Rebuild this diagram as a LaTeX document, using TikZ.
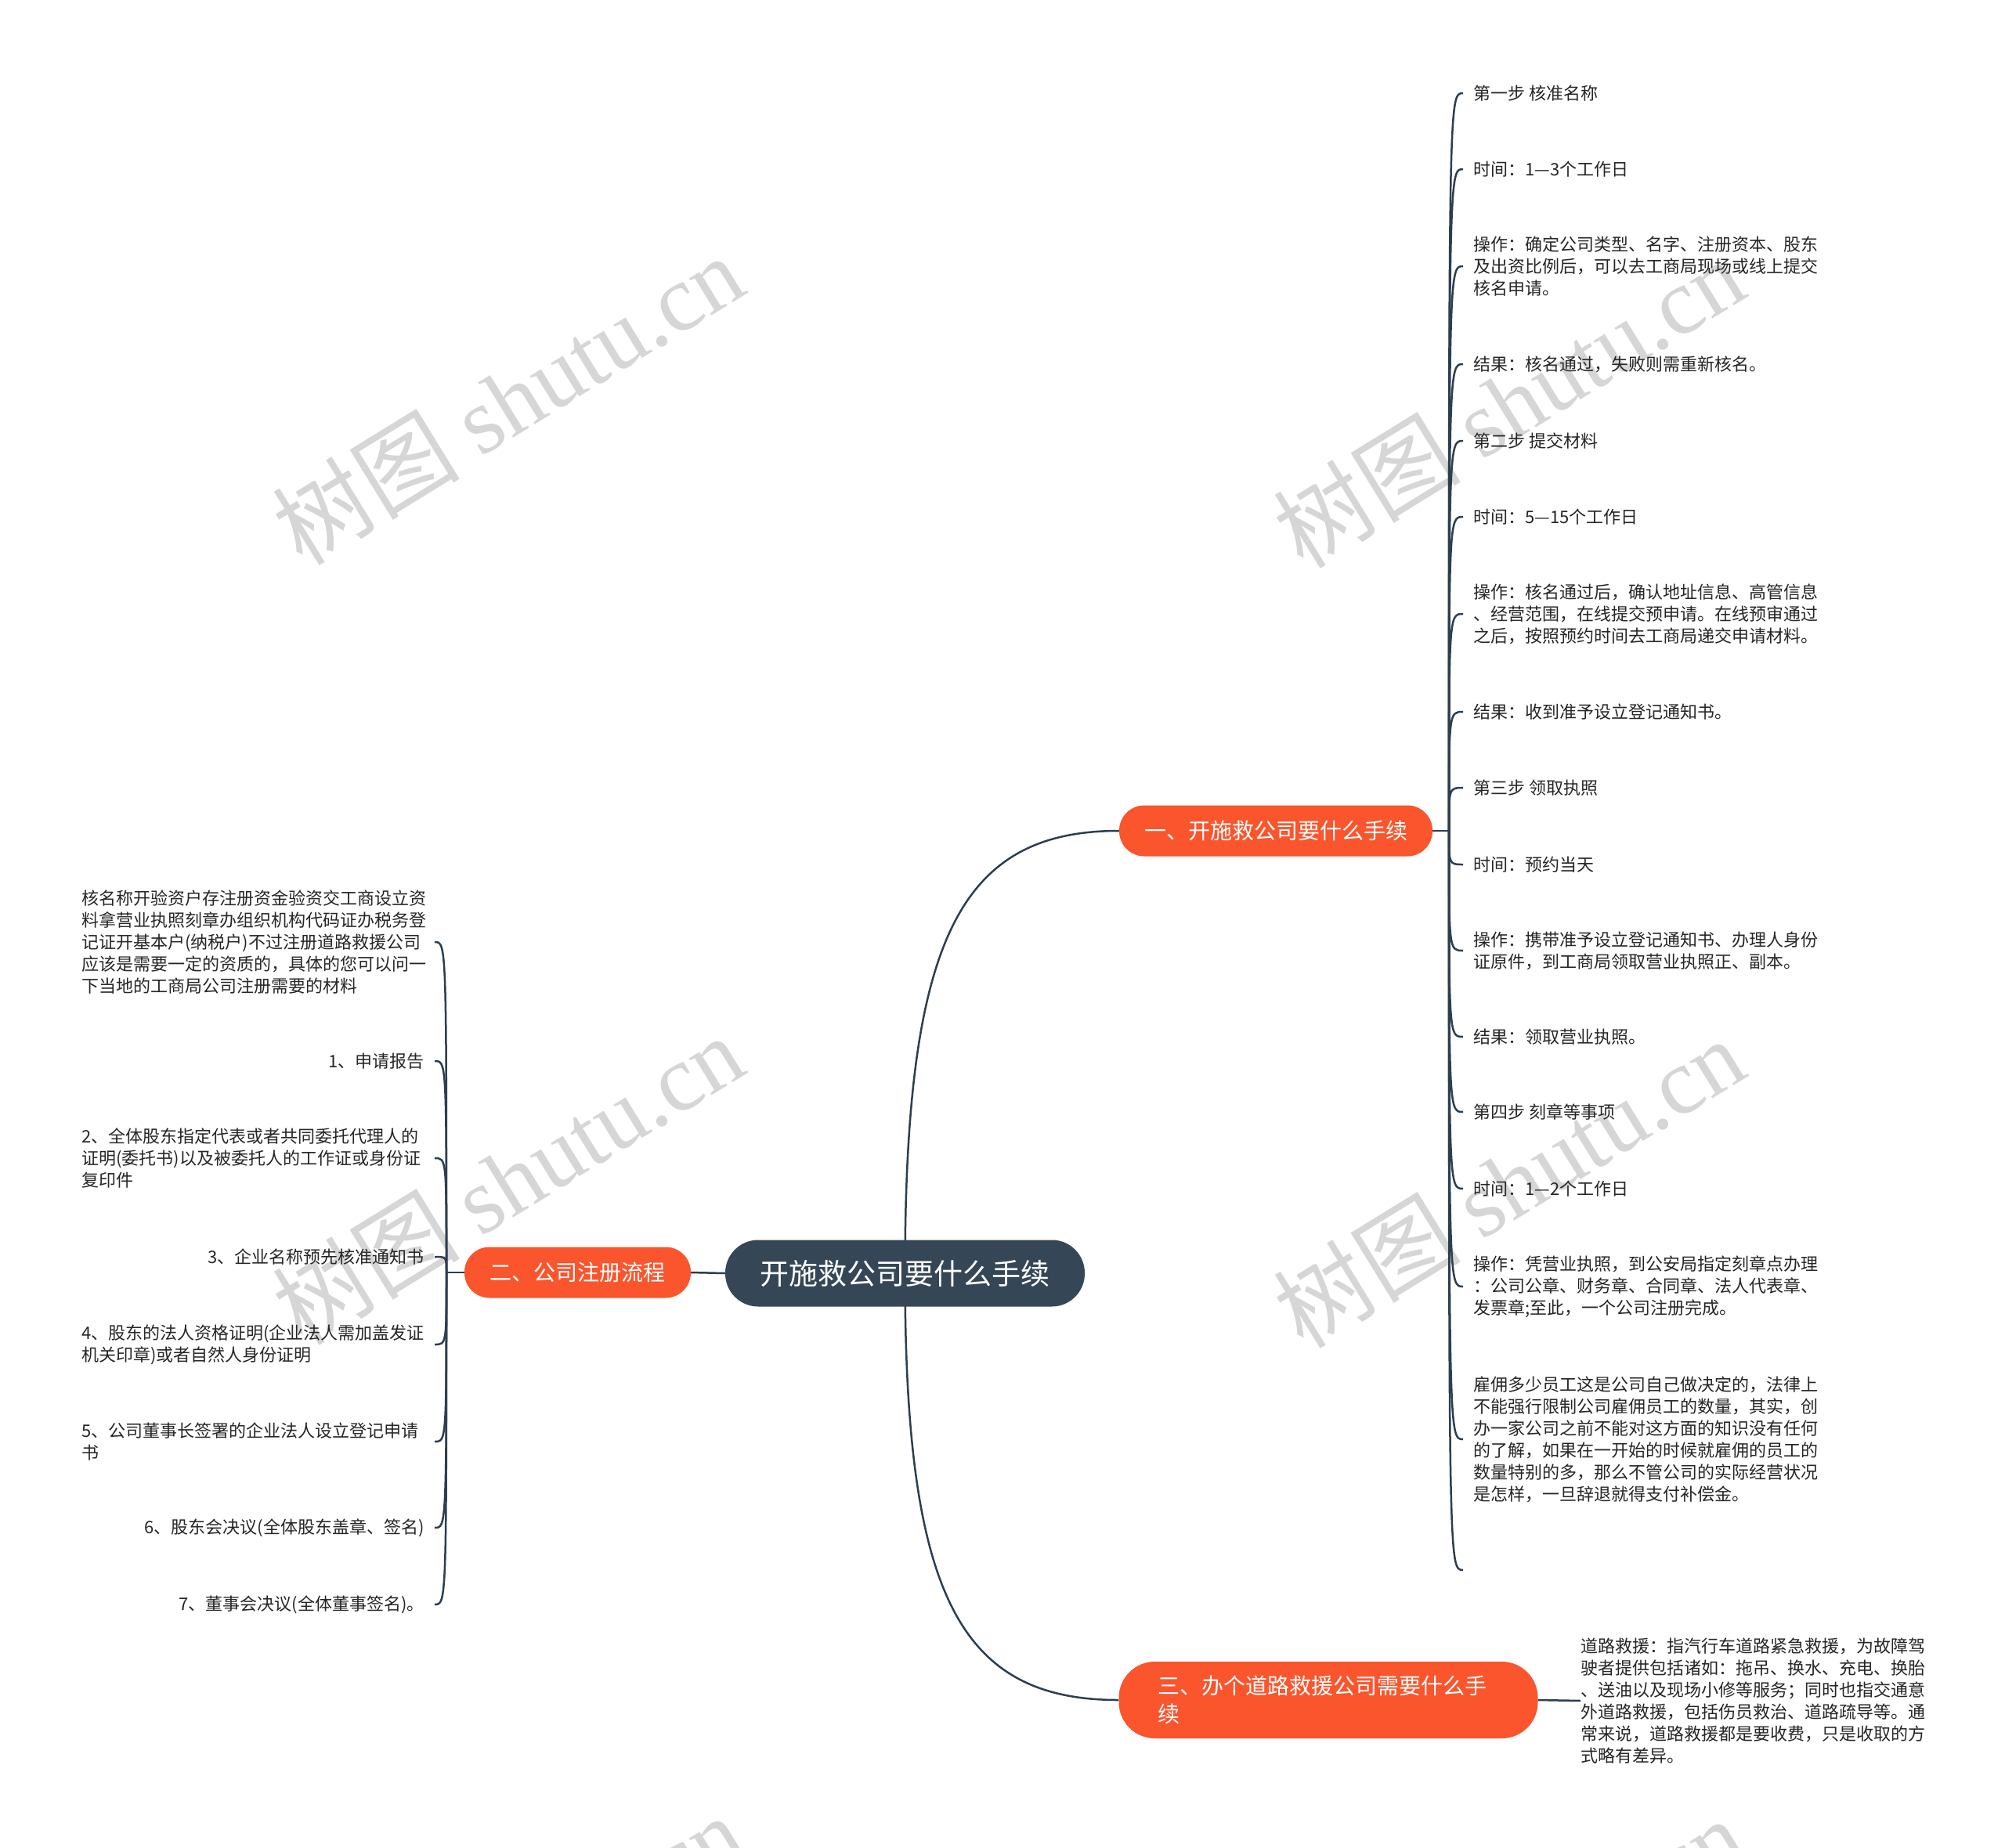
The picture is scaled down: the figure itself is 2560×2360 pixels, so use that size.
\documentclass[tikz,border=0pt]{standalone}
\usepackage{fontspec}
\setmainfont{Noto Sans CJK SC}
\newfontfamily\wmserif{Liberation Serif}
\usetikzlibrary{calc,backgrounds}
\definecolor{lineC}{RGB}{45,62,80}
\definecolor{rootC}{RGB}{53,71,87}
\definecolor{branchC}{RGB}{250,85,45}
\definecolor{txtC}{RGB}{38,38,38}
\definecolor{wmC}{RGB}{214,214,214}
\begin{document}
\begin{tikzpicture}[x=1pt,y=-1pt,
  conn/.style={draw=lineC,line width=2.5pt},
  rootbox/.style={fill=rootC,text=white,rounded corners=42pt,minimum width=459pt,minimum height=85pt,inner sep=0pt,font=\fontsize{37}{44}\selectfont},
  branchbox/.style={fill=branchC,text=white,rounded corners=32pt,minimum height=65pt,inner sep=0pt,font=\fontsize{28}{36}\selectfont},
  leafR/.style={anchor=west,align=left,inner sep=0pt,text=txtC,font=\fontsize{22}{28}\selectfont},
  leafLR/.style={anchor=east,align=right,inner sep=0pt,text=txtC,font=\fontsize{22}{28}\selectfont},
  leafLL/.style={anchor=west,align=left,inner sep=0pt,text=txtC,font=\fontsize{22}{28}\selectfont},
  wmark/.style={text=wmC,rotate=31.6,inner sep=0pt,font=\fontsize{120}{130}\selectfont}
]
\useasboundingbox (0,0) rectangle (2560,2360);

% main nodes
\node[rootbox] (c) at (1155.5,1626) {开施救公司要什么手续};
\node[branchbox,minimum width=400pt] (n1) at (1629,1061) {一、开施救公司要什么手续};
\node[branchbox,minimum width=289pt] (n2) at (737.5,1625) {二、公司注册流程};
\node[fill=branchC,text=white,rounded corners=46pt,minimum height=98pt,inner xsep=50pt,inner ysep=0pt,text width=435pt,align=left,font=\fontsize{28}{36}\selectfont] (n3) at (1696,2171) {三、办个道路救援公司需要什么手\\续};

% right leaves
\node[leafR] (r1) at (1881,119) {第一步 核准名称};
\node[leafR] (r2) at (1881,216) {时间：1—3个工作日};
\node[leafR] (r3) at (1881,340) {操作：确定公司类型、名字、注册资本、股东\\及出资比例后，可以去工商局现场或线上提交\\核名申请。};
\node[leafR] (r4) at (1881,465) {结果：核名通过，失败则需重新核名。};
\node[leafR] (r5) at (1881,563) {第二步 提交材料};
\node[leafR] (r6) at (1881,660) {时间：5—15个工作日};
\node[leafR] (r7) at (1881,784) {操作：核名通过后，确认地址信息、高管信息\\、经营范围，在线提交预申请。在线预审通过\\之后，按照预约时间去工商局递交申请材料。};
\node[leafR] (r8) at (1881,909) {结果：收到准予设立登记通知书。};
\node[leafR] (r9) at (1881,1006) {第三步 领取执照};
\node[leafR] (r10) at (1881,1104) {时间：预约当天};
\node[leafR] (r11) at (1881,1214) {操作：携带准予设立登记通知书、办理人身份\\证原件，到工商局领取营业执照正、副本。};
\node[leafR] (r12) at (1881,1324) {结果：领取营业执照。};
\node[leafR] (r13) at (1881,1420) {第四步 刻章等事项};
\node[leafR] (r14) at (1881,1518) {时间：1—2个工作日};
\node[leafR] (r15) at (1881,1643) {操作：凭营业执照，到公安局指定刻章点办理\\：公司公章、财务章、合同章、法人代表章、\\发票章;至此，一个公司注册完成。};
\node[leafR] (r16) at (1881,1838) {雇佣多少员工这是公司自己做决定的，法律上\\不能强行限制公司雇佣员工的数量，其实，创\\办一家公司之前不能对这方面的知识没有任何\\的了解，如果在一开始的时候就雇佣的员工的\\数量特别的多，那么不管公司的实际经营状况\\是怎样，一旦辞退就得支付补偿金。};
\coordinate (r17) at (1881,2005);

% left leaves
\node[leafLL] (l0) at (104,1203) {核名称开验资户存注册资金验资交工商设立资\\料拿营业执照刻章办组织机构代码证办税务登\\记证开基本户(纳税户)不过注册道路救援公司\\应该是需要一定的资质的，具体的您可以问一\\下当地的工商局公司注册需要的材料};
\node[leafLR] (l1) at (542,1355) {1、申请报告};
\node[leafLL] (l2) at (104,1479) {2、全体股东指定代表或者共同委托代理人的\\证明(委托书)以及被委托人的工作证或身份证\\复印件};
\node[leafLR] (l3) at (542,1605) {3、企业名称预先核准通知书};
\node[leafLL] (l4) at (104,1717) {4、股东的法人资格证明(企业法人需加盖发证\\机关印章)或者自然人身份证明};
\node[leafLL] (l5) at (104,1841) {5、公司董事长签署的企业法人设立登记申请\\书};
\node[leafLR] (l6) at (542,1951) {6、股东会决议(全体股东盖章、签名)};
\node[leafLR] (l7) at (542,2049) {7、董事会决议(全体董事签名)。};

% third branch leaf
\node[leafR] (t1) at (2018,2172) {道路救援：指汽行车道路紧急救援，为故障驾\\驶者提供包括诸如：拖吊、换水、充电、换胎\\、送油以及现场小修等服务；同时也指交通意\\外道路救援，包括伤员救治、道路疏导等。通\\常来说，道路救援都是要收费，只是收取的方\\式略有差异。};

\coordinate (s1) at (1850,1061);
\coordinate (s2) at (570,1625);

\begin{pgfonlayer}{background}
  \fill[white] (0,0) rectangle (2560,2360);
  \begin{scope}
    \clip (0,0) rectangle (2560,2360);
    \foreach \i/\px/\py in {1/648/510,2/1926/514,3/648/1506,4/1926/1510,5/648/2502,6/1926/2506}{
      \node[wmark] (wm\i) at (\px,\py) {树图 {\wmserif shutu.cn}};
    }
  \end{scope}
  % main curves
  \draw[conn] (c.center) .. controls ($(c.center)!0.75!(c.center|-n1.west)$) and ($(c.center|-n1.west)!0.25!(n1.west)$) .. (n1.west);
  \draw[conn] (c.center) .. controls ($(c.center)!0.75!(c.center|-n3.west)$) and ($(c.center|-n3.west)!0.25!(n3.west)$) .. (n3.west);
  \draw[conn] (n2.east) -- (c.west);
  \draw[conn] (n3.east) -- (t1.west);
  % right bracket
  \draw[conn] (n1.east) -- (s1);
  \foreach \k in {r1,r2,r3,r4,r5,r6,r7,r8,r9,r10,r11,r12,r13,r14,r15,r16,r17}{
    \draw[conn] (s1) .. controls (s1|-\k) and (s1|-\k) .. ($(s1|-\k)+(18,0)$);
  }
  % left bracket
  \draw[conn] (n2.west) -- (s2);
  \foreach \k in {l0,l1,l2,l3,l4,l5,l6,l7}{
    \draw[conn] (s2) .. controls (s2|-\k.west) and (s2|-\k.west) .. ($(s2|-\k.west)+(-15,0)$);
  }
\end{pgfonlayer}
\end{tikzpicture}
\end{document}
